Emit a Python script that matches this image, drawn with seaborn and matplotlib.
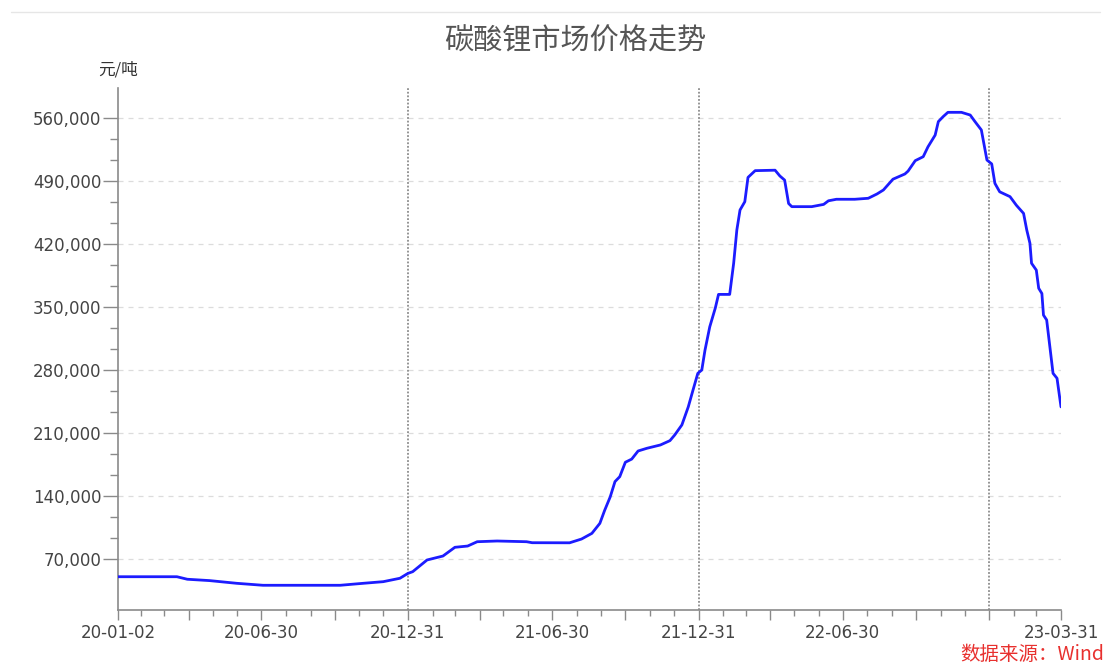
import matplotlib
matplotlib.use("Agg")
import matplotlib.pyplot as plt
import matplotlib.dates as mdates
from matplotlib.ticker import FixedLocator, FuncFormatter
from matplotlib.lines import Line2D
import pandas as pd
import seaborn as sns

# ---------------- data ----------------
dates = [
    "2020-01-02", "2020-03-16", "2020-03-29", "2020-04-26", "2020-05-30", "2020-07-02",
    "2020-10-07", "2020-11-05", "2020-11-30", "2020-12-21", "2020-12-31", "2021-01-06",
    "2021-01-24", "2021-02-13", "2021-02-28", "2021-03-16", "2021-03-28", "2021-04-22",
    "2021-05-29", "2021-06-05", "2021-07-22", "2021-08-06", "2021-08-19", "2021-08-29",
    "2021-09-04", "2021-09-11", "2021-09-17", "2021-09-23", "2021-09-30", "2021-10-08",
    "2021-10-16", "2021-10-27", "2021-11-13", "2021-11-25", "2021-12-01", "2021-12-10",
    "2021-12-18", "2021-12-24", "2021-12-30", "2022-01-04", "2022-01-08", "2022-01-14",
    "2022-01-21", "2022-01-25", "2022-02-08", "2022-02-13", "2022-02-17", "2022-02-21",
    "2022-02-27", "2022-03-03", "2022-03-12", "2022-04-06", "2022-04-12", "2022-04-18",
    "2022-04-23", "2022-04-27", "2022-05-22", "2022-06-06", "2022-06-12", "2022-06-22",
    "2022-07-15", "2022-08-01", "2022-08-12", "2022-08-20", "2022-09-01", "2022-09-16",
    "2022-09-20", "2022-09-29", "2022-10-09", "2022-10-15", "2022-10-24", "2022-10-28",
    "2022-11-03", "2022-11-09", "2022-11-26", "2022-12-07", "2022-12-13", "2022-12-21",
    "2022-12-28", "2023-01-03", "2023-01-07", "2023-01-13", "2023-01-26", "2023-02-03",
    "2023-02-12", "2023-02-16", "2023-02-20", "2023-02-22", "2023-02-28", "2023-03-03",
    "2023-03-07", "2023-03-09", "2023-03-13", "2023-03-17", "2023-03-21", "2023-03-26",
    "2023-03-31",
]
prices = [
    50300, 50300, 47500, 46000, 43000, 40800,
    40800, 43000, 44800, 48600, 54000, 55900,
    68900, 73300, 83000, 84400, 89200, 90000,
    89200, 88100, 88000, 92200, 98500, 109600,
    124000, 139000, 156000, 161500, 177500, 181000,
    190000, 193000, 196700, 201500, 207800, 219000,
    239000, 257800, 276300, 280000, 302000, 328000,
    349000, 364000, 364000, 398600, 435600, 457800,
    467000, 494000, 501500, 502000, 495600, 491000,
    465000, 461500, 461500, 464000, 468000, 469700,
    469700, 470800, 475600, 480000, 492000, 497800,
    501000, 512600, 517000, 528000, 541000, 556000,
    561500, 566300, 566300, 563300, 556000, 546700,
    513300, 509000, 487400, 478000, 472600, 463000,
    454000, 435600, 420800, 398600, 391000, 370800,
    365000, 341000, 335600, 306000, 276300, 270800,
    239000,
]

title = "碳酸锂市场价格走势"
unit_label = "元/吨"
source_label = "数据来源：Wind"

y_major_ticks = [70000, 140000, 210000, 280000, 350000, 420000, 490000, 560000]

x_major_dates = ["2020-01-02", "2020-03-31", "2020-06-30", "2020-09-30", "2020-12-31",
                 "2021-03-31", "2021-06-30", "2021-09-30", "2021-12-31", "2022-03-31",
                 "2022-06-30", "2022-09-30", "2022-12-31", "2023-03-31"]
x_major_labels = ["20-01-02", "", "20-06-30", "", "20-12-31",
                  "", "21-06-30", "", "21-12-31", "",
                  "22-06-30", "", "", "23-03-31"]
year_end_lines = ["2020-12-31", "2021-12-31", "2022-12-31"]

# ---------------- plot ----------------
sns.set_theme(style="white")
plt.rcParams['font.family'] = ['DejaVu Sans', 'Noto Sans CJK SC']
cjk = ['Noto Sans CJK SC', 'DejaVu Sans']

W, H = 1108, 664
fig = plt.figure(figsize=(W / 100, H / 100), dpi=100)
fig.patch.set_facecolor("white")
ax = fig.add_axes([118 / W, 1 - 610 / H, (1061 - 118) / W, (610 - 88) / H])

df = pd.DataFrame({"date": pd.to_datetime(dates), "price": prices})
sns.lineplot(data=df, x="date", y="price", ax=ax, color="#1c1cff", linewidth=2.0, zorder=3)
ax.lines[0].set_solid_joinstyle("round")

ax.set_xlim(pd.Timestamp("2020-01-02"), pd.Timestamp("2023-03-31"))
ax.set_ylim(13333, 593333)
ax.set_xlabel("")
ax.set_ylabel("")

# y axis
ax.yaxis.set_major_locator(FixedLocator(y_major_ticks))
ax.yaxis.set_major_formatter(FuncFormatter(lambda v, p: f"{v:,.0f}"))
step = (y_major_ticks[1] - y_major_ticks[0]) / 3
y_minor = []
for a in y_major_ticks[:-1]:
    y_minor += [a + step, a + 2 * step]
ax.yaxis.set_minor_locator(FixedLocator(y_minor))

# x axis
xmaj = [mdates.date2num(pd.Timestamp(d)) for d in x_major_dates]
label_map = dict(zip([round(x, 3) for x in xmaj], x_major_labels))
ax.xaxis.set_major_locator(FixedLocator(xmaj))
ax.xaxis.set_major_formatter(FuncFormatter(lambda v, p: label_map.get(round(v, 3), "")))
month_ends = pd.date_range("2020-01-31", "2023-03-31", freq="ME")
xmin = [mdates.date2num(d) for d in month_ends
        if d.strftime("%Y-%m-%d") not in x_major_dates]
ax.xaxis.set_minor_locator(FixedLocator(xmin))

ax.tick_params(axis="y", which="major", direction="out", length=11, width=1,
               color="#8a8a8a", pad=1, labelsize=12, labelcolor="#444444", left=True)
ax.tick_params(axis="y", which="minor", direction="out", length=6, width=1,
               color="#8a8a8a", left=True)
ax.tick_params(axis="x", which="major", direction="out", length=7, width=1,
               color="#8a8a8a", pad=3, labelsize=12, labelcolor="#444444", bottom=True)
ax.tick_params(axis="x", which="minor", direction="out", length=4, width=1,
               color="#8a8a8a", bottom=True)

for s in ["top", "right"]:
    ax.spines[s].set_visible(False)
for s in ["left", "bottom"]:
    ax.spines[s].set_color("#8a8a8a")
    ax.spines[s].set_linewidth(1.2)

ax.grid(False)
ax.yaxis.grid(True, which="major", color="#dcdcdc", linestyle=(0, (4, 4)), linewidth=0.9, zorder=0)

for d in year_end_lines:
    ax.axvline(pd.Timestamp(d), color="#8c8c8c", linewidth=1.3, linestyle=(0, (1, 1)), zorder=2)

# texts
fig.text(575 / W, 1 - 42 / H, title, ha="center", va="center", fontsize=21,
         color="#555555", family=cjk)
fig.text(118 / W, 1 - 70 / H, unit_label, ha="center", va="center", fontsize=12,
         color="#333333", family=cjk)
fig.text(1104 / W, 1 - 655 / H, source_label, ha="right", va="center", fontsize=14,
         color="#e8302e", family=cjk)

fig.add_artist(Line2D([11 / W, 1100 / W], [1 - 12 / H, 1 - 12 / H],
                      transform=fig.transFigure, color="#e6e6e6", linewidth=1))

fig.savefig("out.png", dpi=100)
